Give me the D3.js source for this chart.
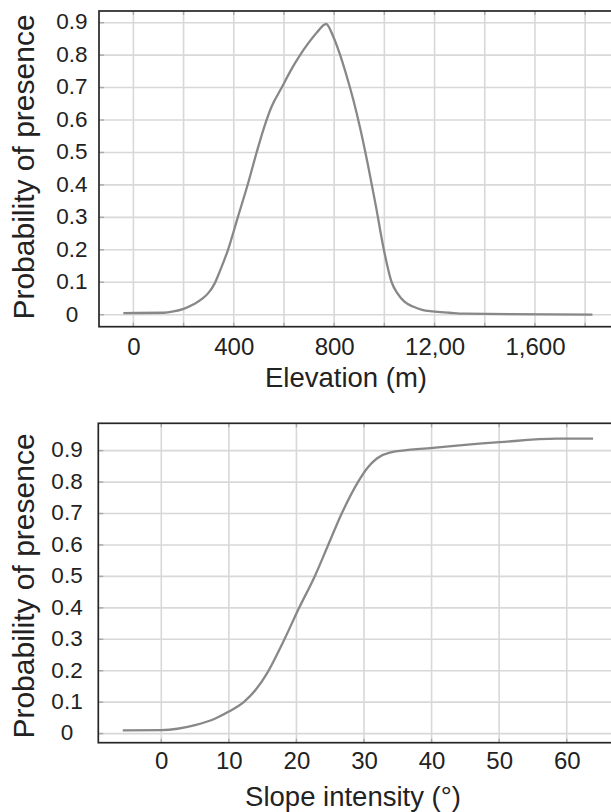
<!DOCTYPE html>
<html>
<head>
<meta charset="utf-8">
<script src="https://cdn.jsdelivr.net/npm/d3@7"></script>
<style>
body { margin:0; background:#fff; }
text { font-family:"Liberation Sans", Arial, sans-serif; fill:#222; }
</style>
</head>
<body>
<div id="a"></div>
<script>
// values
var elevation = [-40, 120, 160, 200, 240, 276, 300, 323, 345, 377, 416, 457, 491, 520, 550, 591, 625, 664, 700, 731, 768,
                 797, 824, 850, 877, 905, 935, 965, 998, 1029, 1053, 1080, 1114, 1150, 1192, 1260, 1317, 1829];
var elevProb  = [0.005, 0.006, 0.01, 0.018, 0.032, 0.05, 0.068, 0.095, 0.135, 0.2, 0.3, 0.405, 0.5, 0.575, 0.64, 0.7, 0.75, 0.8, 0.84, 0.87, 0.896,
                 0.856, 0.8, 0.735, 0.66, 0.57, 0.46, 0.34, 0.2, 0.1, 0.065, 0.04, 0.025, 0.015, 0.01, 0.006, 0.003, 0.0];
var elevGrid   = [0, 200, 400, 600, 800, 1000, 1200, 1400, 1600, 1800];
var elevTicks  = [0, 400, 800, 1200, 1600];
var elevLabels = ["0", "400", "800", "12,00", "1,600"];

var slope     = [-5.7, 0, 5, 8, 10, 12.2, 14, 15.6, 18.0, 20.4, 22.7, 24.7, 26.7, 29.1, 30.5, 31.9, 33.8, 40.2, 50.1, 58.5, 63.9];
var slopeProb = [0.01, 0.011, 0.027, 0.048, 0.07, 0.1, 0.14, 0.19, 0.29, 0.4, 0.5, 0.6, 0.7, 0.8, 0.845, 0.875, 0.894, 0.909, 0.927, 0.938, 0.938];
var slopeTicks  = [0, 10, 20, 30, 40, 50, 60];
var slopeLabels = ["0", "10", "20", "30", "40", "50", "60"];

var probTicks  = [0, 0.1, 0.2, 0.3, 0.4, 0.5, 0.6, 0.7, 0.8, 0.9];
var probLabels = ["0", "0.1", "0.2", "0.3", "0.4", "0.5", "0.6", "0.7", "0.8", "0.9"];

var W = 611, H = 812;

var svg = d3.select("#a").append("svg")
	.attr("width", W)
	.attr("height", H);

function panel(o) {
	var x = d3.scaleLinear().domain(o.xDom).range([o.left, W]);
	var y = d3.scaleLinear().domain(o.yDom).range([o.bottom, o.top]);
	var g = svg.append("g");

	// grid
	g.append("g").selectAll("line").data(o.xGrid).enter().append("line")
		.attr("x1", function(d){ return x(d); }).attr("x2", function(d){ return x(d); })
		.attr("y1", o.top).attr("y2", o.bottom)
		.attr("stroke", "#d8d8d8").attr("stroke-width", 1.6);
	g.append("g").selectAll("line").data(probTicks).enter().append("line")
		.attr("x1", o.left).attr("x2", W + 5)
		.attr("y1", function(d){ return y(d); }).attr("y2", function(d){ return y(d); })
		.attr("stroke", "#d8d8d8").attr("stroke-width", 1.6);

	// little inward ticks, a bit darker than the grid
	g.append("g").selectAll("line").data(o.xGrid).enter().append("line")
		.attr("x1", function(d){ return x(d); }).attr("x2", function(d){ return x(d); })
		.attr("y1", o.top).attr("y2", o.top + 4)
		.attr("stroke", "#aaa").attr("stroke-width", 1.4);
	g.append("g").selectAll("line").data(o.xGrid).enter().append("line")
		.attr("x1", function(d){ return x(d); }).attr("x2", function(d){ return x(d); })
		.attr("y1", o.bottom - 4).attr("y2", o.bottom)
		.attr("stroke", "#aaa").attr("stroke-width", 1.4);
	g.append("g").selectAll("line").data(probTicks).enter().append("line")
		.attr("x1", o.left).attr("x2", o.left + 5)
		.attr("y1", function(d){ return y(d); }).attr("y2", function(d){ return y(d); })
		.attr("stroke", "#aaa").attr("stroke-width", 1.4);

	// curve
	var line = d3.line()
		.curve(d3.curveMonotoneX)
		.x(function(d){ return x(d[0]); })
		.y(function(d){ return y(d[1]); });
	g.append("path")
		.datum(d3.zip(o.xs, o.ys))
		.attr("d", line)
		.attr("fill", "none")
		.attr("stroke", "#888")
		.attr("stroke-width", 2.3)
		.attr("stroke-linejoin", "round");

	// frame, right side runs off the page
	g.append("rect")
		.attr("x", o.left).attr("y", o.top)
		.attr("width", W + 5 - o.left).attr("height", o.bottom - o.top)
		.attr("fill", "none").attr("stroke", "#262626").attr("stroke-width", 1.7);

	// x labels
	var xa = g.append("g")
		.attr("transform", "translate(0," + o.bottom + ")")
		.call(d3.axisBottom(x).tickValues(o.xTicks).tickSize(0)
			.tickFormat(function(d, i){ return o.xLabels[i]; }));
	xa.select(".domain").remove();
	xa.selectAll("text")
		.attr("y", o.xLabelBase - o.bottom).attr("dy", null)
		.style("font-size", "24px").style("font-family", null).attr("fill", "#222");

	// y labels
	var ya = g.append("g")
		.attr("transform", "translate(" + o.left + ",0)")
		.call(d3.axisLeft(y).tickValues(probTicks).tickSize(0)
			.tickFormat(function(d, i){ return probLabels[i]; }));
	ya.select(".domain").remove();
	ya.selectAll("text")
		.attr("x", o.yLabelX - o.left).attr("text-anchor", "middle")
		.attr("dy", "0.28em")
		.style("font-size", "22.5px").style("font-family", null).attr("fill", "#222");

	// titles
	g.append("text")
		.attr("x", o.xTitleX).attr("y", o.xTitleBase)
		.attr("text-anchor", "middle")
		.style("font-size", "27.5px")
		.text(o.xTitle);
	g.append("text")
		.attr("transform", "translate(33.5," + o.yTitleY + ") rotate(-90)")
		.attr("text-anchor", "middle")
		.style("font-size", "30px")
		.text("Probability of presence");
}

panel({
	xs: elevation, ys: elevProb,
	xDom: [-137, 1903], yDom: [-0.037, 0.936],
	left: 99, top: 11, bottom: 326.7,
	xGrid: elevGrid, xTicks: elevTicks, xLabels: elevLabels,
	xLabelBase: 355, yLabelX: 72,
	xTitle: "Elevation (m)", xTitleX: 346, xTitleBase: 387,
	yTitleY: 167
});

panel({
	xs: slope, ys: slopeProb,
	xDom: [-9.32, 66.55], yDom: [-0.029, 0.987],
	left: 98.3, top: 423.3, bottom: 742.7,
	xGrid: slopeTicks, xTicks: slopeTicks, xLabels: slopeLabels,
	xLabelBase: 769, yLabelX: 67,
	xTitle: "Slope intensity (°)", xTitleX: 353, xTitleBase: 806,
	yTitleY: 586
});
</script>
</body>
</html>
